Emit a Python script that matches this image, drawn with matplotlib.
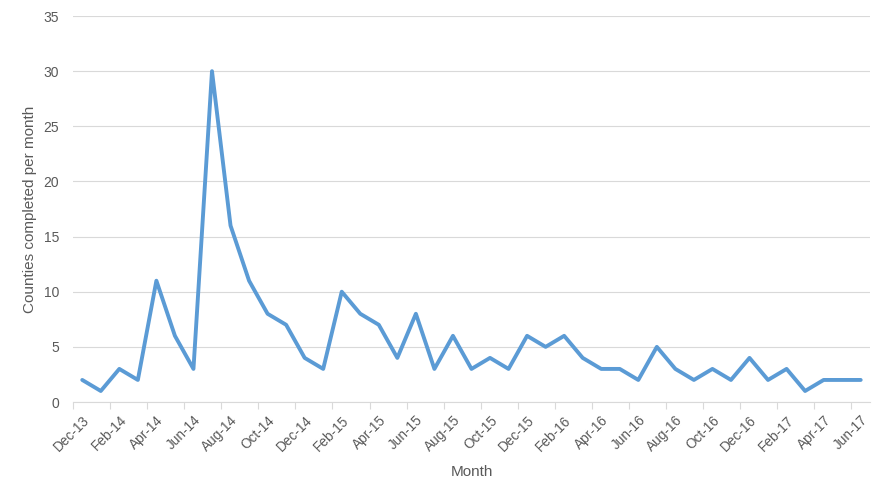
import numpy as np
import matplotlib.pyplot as plt

# Monthly counts, Dec-13 .. Jun-17
months = ['Dec-13', 'Jan-14', 'Feb-14', 'Mar-14', 'Apr-14', 'May-14', 'Jun-14', 'Jul-14',
          'Aug-14', 'Sep-14', 'Oct-14', 'Nov-14', 'Dec-14', 'Jan-15', 'Feb-15', 'Mar-15',
          'Apr-15', 'May-15', 'Jun-15', 'Jul-15', 'Aug-15', 'Sep-15', 'Oct-15', 'Nov-15',
          'Dec-15', 'Jan-16', 'Feb-16', 'Mar-16', 'Apr-16', 'May-16', 'Jun-16', 'Jul-16',
          'Aug-16', 'Sep-16', 'Oct-16', 'Nov-16', 'Dec-16', 'Jan-17', 'Feb-17', 'Mar-17',
          'Apr-17', 'May-17', 'Jun-17']
counties = [2, 1, 3, 2, 11, 6, 3, 30, 16, 11, 8, 7, 4, 3, 10, 8, 7, 4, 8, 3, 6, 3, 4, 3,
            6, 5, 6, 4, 3, 3, 2, 5, 3, 2, 3, 2, 4, 2, 3, 1, 2, 2, 2]

plt.rcParams['font.family'] = ['Liberation Sans', 'DejaVu Sans']
txt = '#595959'
grid = '#D9D9D9'

fig = plt.figure(figsize=(8.9, 5.01), dpi=100)
ax = fig.add_axes([0.082, 0.1976, 0.8955, 0.7704])

x = np.arange(len(months))
ax.plot(x, counties, color='#5B9BD5', linewidth=2.8, solid_joinstyle='round',
        solid_capstyle='round')

ax.set_xlim(-0.5, len(months) - 0.5)
ax.set_ylim(0, 35)
ax.set_yticks(range(0, 36, 5))
ax.yaxis.grid(True, color=grid, linewidth=0.8)
ax.set_axisbelow(True)

# labels every second month, tick marks on category boundaries
ax.set_xticks(x[::2])
ax.set_xticklabels(months[::2], rotation=45, ha='right', rotation_mode='anchor')
ax.set_xticks(np.arange(-0.5, len(months), 2), minor=True)
ax.tick_params(axis='x', which='major', length=0, pad=8, labelsize=9.8, labelcolor=txt)
ax.tick_params(axis='x', which='minor', length=5, color=grid, width=0.8)
ax.tick_params(axis='y', length=0, pad=10, labelsize=10, labelcolor=txt)

for s in ['top', 'right', 'left']:
    ax.spines[s].set_visible(False)
ax.spines['bottom'].set_color(grid)
ax.spines['bottom'].set_linewidth(0.8)

ax.set_xlabel('Month', fontsize=11, color=txt, labelpad=8)
ax.set_ylabel('Counties completed per month', fontsize=11, color=txt, labelpad=5)

fig.savefig('out.png', dpi=100)
